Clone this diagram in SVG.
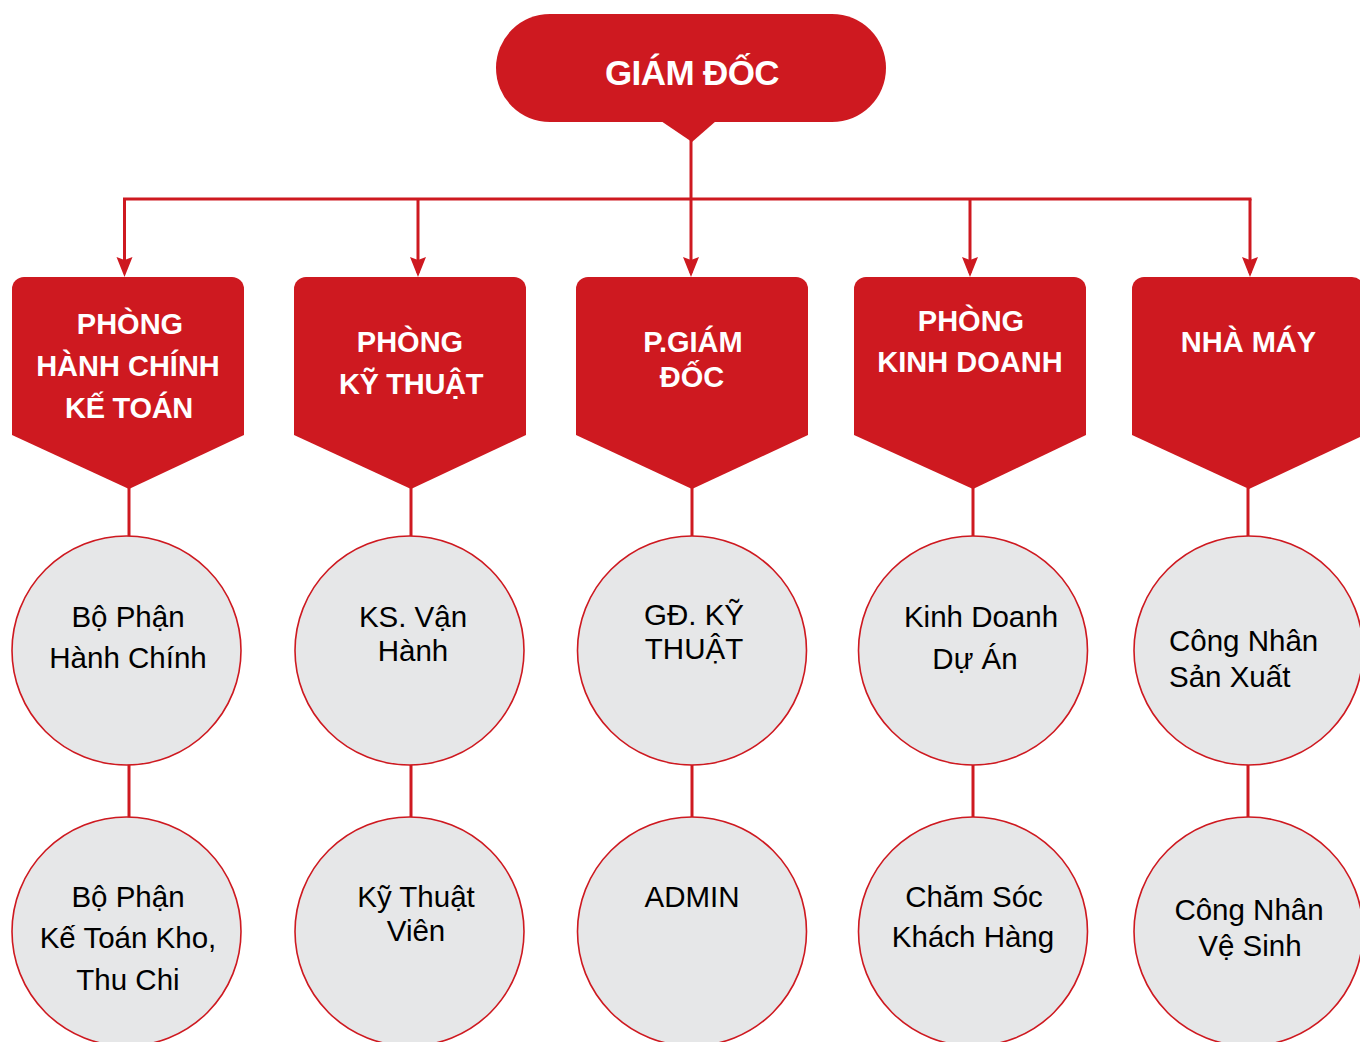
<svg xmlns="http://www.w3.org/2000/svg" width="1360" height="1042" viewBox="0 0 1360 1042">
<style>
.red{fill:#CE1920;}
.ln{stroke:#CE1920;stroke-width:3;fill:none;}
.circ{fill:#E6E7E8;stroke:#CE1920;stroke-width:1.6;}
.ht{font-family:"Liberation Sans",Arial,sans-serif;font-weight:bold;fill:#FFFFFF;text-anchor:middle;}
.ct{font-family:"Liberation Sans",Arial,sans-serif;font-size:29.5px;fill:#000000;text-anchor:middle;}
.pt{font-size:29px;}
</style>
<defs>
<marker id="arr" markerUnits="userSpaceOnUse" markerWidth="22" markerHeight="18" refX="16" refY="8" orient="auto">
<path d="M0,0 L20,8 L0,16 L3,8 Z" fill="#CE1920"/>
</marker>
</defs>
<rect width="1360" height="1042" fill="#FFFFFF"/>
<g id="connectors">
<line class="ln" x1="691" y1="140" x2="691" y2="273" marker-end="url(#arr)"/>
<line class="ln" x1="123" y1="199" x2="1251.5" y2="199"/>
<polyline class="ln" points="124.5,199 124.5,273" marker-end="url(#arr)"/>
<line class="ln" x1="418" y1="199" x2="418" y2="273" marker-end="url(#arr)"/>
<line class="ln" x1="970" y1="199" x2="970" y2="273" marker-end="url(#arr)"/>
<polyline class="ln" points="1250,199 1250,273" marker-end="url(#arr)"/>
<line class="ln" x1="129" y1="488" x2="129" y2="537"/>
<line class="ln" x1="411" y1="488" x2="411" y2="537"/>
<line class="ln" x1="692" y1="488" x2="692" y2="537"/>
<line class="ln" x1="973" y1="488" x2="973" y2="537"/>
<line class="ln" x1="1248" y1="488" x2="1248" y2="537"/>
<line class="ln" x1="129" y1="764" x2="129" y2="818"/>
<line class="ln" x1="411" y1="764" x2="411" y2="818"/>
<line class="ln" x1="692" y1="764" x2="692" y2="818"/>
<line class="ln" x1="973" y1="764" x2="973" y2="818"/>
<line class="ln" x1="1248" y1="764" x2="1248" y2="818"/>
</g>
<g id="giam-doc">
<rect class="red" x="496" y="14" width="390" height="108" rx="54" ry="54"/>
<polygon class="red" points="661,121 716,121 692,142"/>
<text class="ht" x="692" y="85" font-size="35" letter-spacing="-0.6">GIÁM ĐỐC</text>
</g>
<g id="p-hanh-chinh">
<path class="red" d="M24,277 H232 A12,12 0 0 1 244,289 V435 L129,489 L12,435 V289 A12,12 0 0 1 24,277 Z"/>
<text class="ht pt" x="130" y="334">PHÒNG</text>
<text class="ht pt" x="128" y="376">HÀNH CHÍNH</text>
<text class="ht pt" x="129" y="418" letter-spacing="-0.3">KẾ TOÁN</text>
</g>
<g id="p-ky-thuat">
<path class="red" d="M306,277 H514 A12,12 0 0 1 526,289 V435 L411,489 L294,435 V289 A12,12 0 0 1 306,277 Z"/>
<text class="ht pt" x="410" y="352">PHÒNG</text>
<text class="ht pt" x="411" y="394" letter-spacing="-0.3">KỸ THUẬT</text>
</g>
<g id="p-giam-doc">
<path class="red" d="M588,277 H796 A12,12 0 0 1 808,289 V435 L692,489 L576,435 V289 A12,12 0 0 1 588,277 Z"/>
<text class="ht pt" x="693" y="352">P.GIÁM</text>
<text class="ht pt" x="692" y="387">ĐỐC</text>
</g>
<g id="p-kinh-doanh">
<path class="red" d="M866,277 H1074 A12,12 0 0 1 1086,289 V435 L973,489 L854,435 V289 A12,12 0 0 1 866,277 Z"/>
<text class="ht pt" x="971" y="331">PHÒNG</text>
<text class="ht pt" x="970" y="372">KINH DOANH</text>
</g>
<g id="nha-may">
<path class="red" d="M1144,277 H1352 A12,12 0 0 1 1364,289 V435 L1249,489 L1132,435 V289 A12,12 0 0 1 1144,277 Z"/>
<text class="ht pt" x="1248.5" y="352">NHÀ MÁY</text>
</g>
<g id="bp-hanh-chinh">
<circle class="circ" cx="126.5" cy="650.5" r="114.5"/>
<text class="ct" x="128" y="627">Bộ Phận</text>
<text class="ct" x="128" y="668">Hành Chính</text>
</g>
<g id="ks-van-hanh">
<circle class="circ" cx="409.5" cy="650.5" r="114.5"/>
<text class="ct" x="413" y="627">KS. Vận</text>
<text class="ct" x="413" y="661">Hành</text>
</g>
<g id="gd-ky-thuat">
<circle class="circ" cx="692" cy="650.5" r="114.5"/>
<text class="ct" x="694" y="625">GĐ. KỸ</text>
<text class="ct" x="694" y="659">THUẬT</text>
</g>
<g id="kd-du-an">
<circle class="circ" cx="973" cy="650.5" r="114.5"/>
<text class="ct" x="981" y="627">Kinh Doanh</text>
<text class="ct" x="975" y="669">Dự Án</text>
</g>
<g id="cn-san-xuat">
<circle class="circ" cx="1248.5" cy="650.5" r="114.5"/>
<text class="ct" x="1169" y="651" style="text-anchor:start">Công Nhân</text>
<text class="ct" x="1169" y="687" style="text-anchor:start">Sản Xuất</text>
</g>
<g id="bp-ke-toan">
<circle class="circ" cx="126.5" cy="931.5" r="114.5"/>
<text class="ct" x="128" y="907">Bộ Phận</text>
<text class="ct" x="128" y="948">Kế Toán Kho,</text>
<text class="ct" x="128" y="990">Thu Chi</text>
</g>
<g id="ky-thuat-vien">
<circle class="circ" cx="409.5" cy="931.5" r="114.5"/>
<text class="ct" x="416" y="907">Kỹ Thuật</text>
<text class="ct" x="416" y="941">Viên</text>
</g>
<g id="admin">
<circle class="circ" cx="692" cy="931.5" r="114.5"/>
<text class="ct" x="692" y="907">ADMIN</text>
</g>
<g id="cham-soc">
<circle class="circ" cx="973" cy="931.5" r="114.5"/>
<text class="ct" x="974" y="907">Chăm Sóc</text>
<text class="ct" x="973" y="947">Khách Hàng</text>
</g>
<g id="cn-ve-sinh">
<circle class="circ" cx="1248.5" cy="931.5" r="114.5"/>
<text class="ct" x="1249" y="920">Công Nhân</text>
<text class="ct" x="1250" y="956">Vệ Sinh</text>
</g>
</svg>
